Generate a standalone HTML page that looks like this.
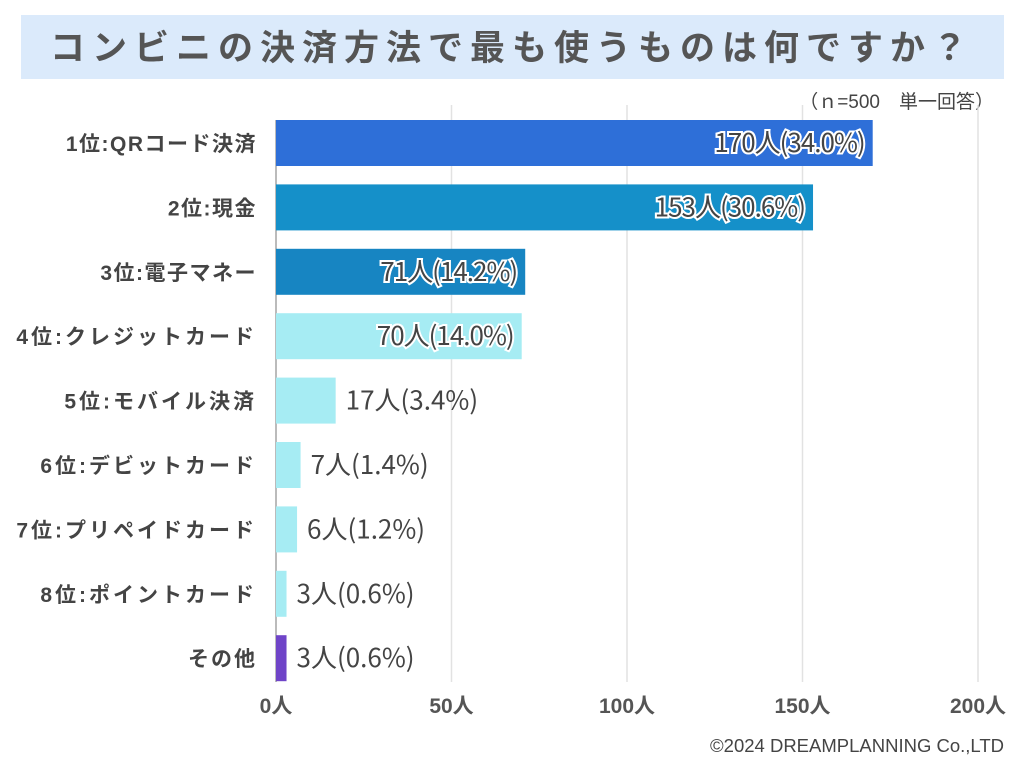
<!DOCTYPE html>
<html><head><meta charset="utf-8"><style>
body{margin:0;background:#fff;}
svg{display:block;font-family:"Liberation Sans","Noto Sans CJK JP",sans-serif;}
</style></head><body>
<svg id="chart" width="1024" height="768" viewBox="0 0 1024 768">
<rect x="21" y="15" width="983" height="64" fill="#dbeafb"/>
<text x="512" y="60" text-anchor="middle" font-size="35" font-weight="bold" fill="#555" letter-spacing="7" font-family="Noto Sans CJK JP, sans-serif">コンビニの決済方法で最も使うものは何ですか？</text>
<text x="994" y="108" text-anchor="end" font-size="19" fill="#444">（ｎ=500　単一回答）</text>
<g id="grid"></g><g id="bars"></g><g id="labels"></g>
<text x="1004" y="752" text-anchor="end" font-size="18.5" fill="#444">©2024 DREAMPLANNING Co.,LTD</text>
</svg>
<script>
const categories=["1位:QRコード決済","2位:現金","3位:電子マネー","4位:クレジットカード","5位:モバイル決済","6位:デビットカード","7位:プリペイドカード","8位:ポイントカード","その他"];
const values=[170,153,71,70,17,7,6,3,3];
const percents=["34.0","30.6","14.2","14.0","3.4","1.4","1.2","0.6","0.6"];
const colors=["#2e6fd8","#1590c9","#1785c2","#a6ecf3","#a6ecf3","#a6ecf3","#a6ecf3","#a6ecf3","#6f44c8"];
const ticks=[0,50,100,150,200];
const NS="http://www.w3.org/2000/svg";
const x=v=>276+v*(702/200);
const yc=i=>143+i*64.4;
function mk(t,a,p){const e=document.createElementNS(NS,t);for(const k in a)e.setAttribute(k,a[k]);p.appendChild(e);return e;}
const g=document.getElementById('grid'),b=document.getElementById('bars'),l=document.getElementById('labels');
ticks.forEach(t=>{
 const ln=mk('line',{x1:x(t),x2:x(t),y1:t===0?120:105,y2:682,stroke:t===0?'#bbb':'#e2e2e2','stroke-width':t===0?2:1.5},g);
 
 
 const tx=mk('text',{x:x(t),y:713,'text-anchor':'middle','font-size':21,'font-weight':'bold',fill:'#555'},l);
 tx.textContent=t+'人';
 
 
});
categories.forEach((c,i)=>{
 const r=mk('rect',{x:x(0),y:yc(i)-23,width:x(values[i])-x(0),height:46,fill:colors[i]},b);
 
 
 const ct=mk('text',{x:257,y:yc(i)+8,'text-anchor':'end','font-size':21,'font-weight':'bold',fill:'#444','letter-spacing':i>=3&&i<=7?3:(i==8?2:1.5)},l);
 ct.textContent=c;
 
 
 const label=values[i]+'人('+percents[i]+'%)';
 const inside=values[i]>=50;
 const vt=mk('text',{x:inside?x(values[i])-8:x(values[i])+10,y:yc(i)+9,'text-anchor':inside?'end':'start','font-size':26,fill:'#444','font-family':'Noto Sans CJK JP, sans-serif'},l);
 if(inside){vt.setAttribute('stroke','#fff');vt.setAttribute('stroke-width','4');vt.setAttribute('paint-order','stroke');vt.setAttribute('letter-spacing','-1');}
 vt.textContent=label;
 
 
});
</script>
</body></html>
